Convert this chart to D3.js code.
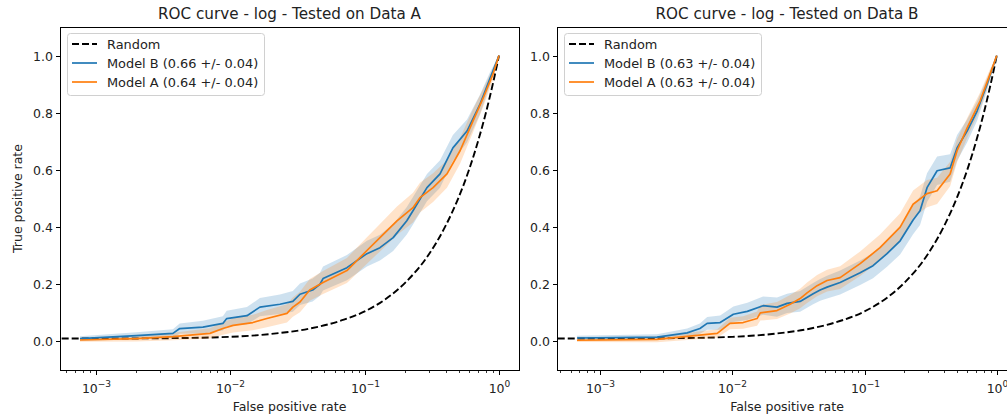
<!DOCTYPE html>
<html>
<head>
<meta charset="utf-8"/>
<script src="https://cdn.jsdelivr.net/npm/d3@7/dist/d3.min.js"></script>
<style>
  html,body { margin:0; padding:0; background:#fff; }
  svg { display:block; font-family:"DejaVu Sans", sans-serif; }
</style>
</head>
<body>
<svg id="chart" width="1007" height="417"></svg>
<script>
// ---- data ----
const titles = ["ROC curve - log - Tested on Data A", "ROC curve - log - Tested on Data B"];
const legendLeft  = ["Random", "Model B (0.66 +/- 0.04)", "Model A (0.64 +/- 0.04)"];
const legendRight = ["Random", "Model B (0.63 +/- 0.04)", "Model A (0.63 +/- 0.04)"];
const yTicks = [0, 0.2, 0.4, 0.6, 0.8, 1.0];
const xTickExps = [-3, -2, -1, 0];

const randomFpr = [1e-4, 1e-3, 3e-3, 0.01, 0.02, 0.04, 0.07, 0.1, 0.15, 0.2, 0.3, 0.4, 0.5, 0.6, 0.7, 0.8, 0.9, 1.0];
const randomTpr = [0.010, 0.010, 0.011, 0.016, 0.026, 0.046, 0.076, 0.105, 0.155, 0.205, 0.304, 0.404, 0.503, 0.602, 0.702, 0.801, 0.901, 1.0];

// left panel (Data A)
const leftBFpr = [7.6e-4, 2.0e-3, 3.74e-3, 4.2e-3, 6.25e-3, 8.8e-3, 9.4e-3, 0.0133, 0.0166, 0.0234, 0.0292, 0.033, 0.041, 0.0465, 0.049, 0.0738, 0.104, 0.13, 0.163, 0.206, 0.229, 0.291, 0.364, 0.454, 0.578, 0.723, 0.857, 1.0];
const leftBTpr = [0.010, 0.020, 0.028, 0.045, 0.050, 0.063, 0.080, 0.090, 0.120, 0.130, 0.140, 0.165, 0.180, 0.200, 0.220, 0.258, 0.307, 0.328, 0.363, 0.422, 0.457, 0.538, 0.586, 0.677, 0.736, 0.830, 0.920, 1.000];
const leftBErr = [0.008, 0.012, 0.015, 0.018, 0.022, 0.025, 0.027, 0.030, 0.032, 0.034, 0.036, 0.038, 0.040, 0.040, 0.042, 0.044, 0.045, 0.045, 0.047, 0.048, 0.048, 0.048, 0.048, 0.045, 0.040, 0.034, 0.022, 0.0];

const leftAFpr = [7.6e-4, 2.0e-3, 3.74e-3, 7.05e-3, 8.8e-3, 0.0105, 0.0147, 0.0187, 0.0264, 0.0292, 0.033, 0.039, 0.049, 0.0738, 0.104, 0.13, 0.174, 0.229, 0.258, 0.323, 0.41, 0.513, 0.64, 0.76, 0.902, 1.0];
const leftATpr = [0.005, 0.010, 0.017, 0.028, 0.045, 0.056, 0.066, 0.080, 0.098, 0.120, 0.138, 0.180, 0.206, 0.248, 0.318, 0.363, 0.422, 0.468, 0.503, 0.538, 0.586, 0.667, 0.771, 0.850, 0.935, 1.000];
const leftAErr = [0.006, 0.010, 0.013, 0.018, 0.022, 0.025, 0.027, 0.030, 0.032, 0.034, 0.036, 0.038, 0.040, 0.044, 0.046, 0.048, 0.050, 0.052, 0.052, 0.050, 0.048, 0.045, 0.040, 0.032, 0.020, 0.0];

// right panel (Data B)
const rightBFpr = [6.7e-4, 2.7e-3, 4.56e-3, 5.7e-3, 6.46e-3, 8.1e-3, 0.0102, 0.013, 0.0171, 0.0218, 0.026, 0.0326, 0.0409, 0.0462, 0.0521, 0.0654, 0.0927, 0.116, 0.148, 0.186, 0.233, 0.263, 0.297, 0.354, 0.444, 0.501, 0.597, 0.71, 0.845, 1.0];
const rightBTpr = [0.012, 0.015, 0.030, 0.045, 0.063, 0.066, 0.095, 0.105, 0.125, 0.120, 0.133, 0.140, 0.167, 0.180, 0.190, 0.206, 0.240, 0.265, 0.307, 0.352, 0.425, 0.457, 0.538, 0.597, 0.607, 0.677, 0.736, 0.806, 0.900, 1.000];
const rightBErr = [0.008, 0.010, 0.015, 0.018, 0.022, 0.025, 0.027, 0.030, 0.032, 0.034, 0.034, 0.036, 0.037, 0.038, 0.040, 0.042, 0.043, 0.044, 0.046, 0.048, 0.050, 0.050, 0.050, 0.050, 0.048, 0.045, 0.040, 0.034, 0.022, 0.0];

const rightAFpr = [6.7e-4, 2.7e-3, 7.7e-3, 9.6e-3, 0.0121, 0.0154, 0.0163, 0.0218, 0.0274, 0.0326, 0.0368, 0.0438, 0.0521, 0.0654, 0.0927, 0.131, 0.186, 0.233, 0.297, 0.354, 0.444, 0.501, 0.597, 0.748, 0.89, 1.0];
const rightATpr = [0.004, 0.007, 0.028, 0.063, 0.066, 0.080, 0.100, 0.108, 0.130, 0.150, 0.170, 0.195, 0.213, 0.223, 0.272, 0.328, 0.400, 0.480, 0.517, 0.527, 0.586, 0.667, 0.747, 0.841, 0.935, 1.000];
const rightAErr = [0.006, 0.010, 0.015, 0.020, 0.022, 0.025, 0.027, 0.030, 0.032, 0.034, 0.036, 0.037, 0.038, 0.040, 0.043, 0.046, 0.048, 0.048, 0.048, 0.046, 0.043, 0.040, 0.035, 0.030, 0.018, 0.0];

const blue = "#1f77b4", orange = "#ff7f0e";

const svg = d3.select("#chart");
const plotTop = 27, plotBottom = 370;

const y = d3.scaleLinear().domain([-0.1, 1.1]).range([plotBottom, plotTop]);

function zipPts(fpr, tpr, err) {
  return fpr.map((f, i) => ({ x: f, y: tpr[i], e: err ? err[i] : 0 }));
}

function panel(idx, x0, x1, xDom, legend, seriesB, seriesA, showYLabel) {
  const g = svg.append("g");
  const x = d3.scaleLog().domain(xDom).range([x0, x1]);

  const clipId = "clip" + idx;
  svg.append("defs").append("clipPath").attr("id", clipId)
    .append("rect").attr("x", x0).attr("y", plotTop).attr("width", x1 - x0).attr("height", plotBottom - plotTop);

  const plot = g.append("g").attr("clip-path", `url(#${clipId})`);
  const line = d3.line().x(d => x(d.x)).y(d => y(d.y));
  const area = d3.area().x(d => x(d.x)).y0(d => y(d.y - d.e)).y1(d => y(d.y + d.e));

  // random baseline
  plot.append("path").datum(zipPts(randomFpr, randomTpr))
    .attr("d", line.curve(d3.curveMonotoneX)).attr("fill", "none")
    .attr("stroke", "#000").attr("stroke-width", 1.9).attr("stroke-dasharray", "7,3");
  line.curve(d3.curveLinear);

  [[seriesB, blue], [seriesA, orange]].forEach(([pts, c]) => {
    plot.append("path").datum(pts).attr("d", area)
      .attr("fill", c).attr("fill-opacity", 0.22).attr("stroke", "none");
  });
  [[seriesB, blue], [seriesA, orange]].forEach(([pts, c]) => {
    plot.append("path").datum(pts).attr("d", line)
      .attr("fill", "none").attr("stroke", c).attr("stroke-width", 1.7)
      .attr("stroke-linejoin", "round");
  });

  // spines
  g.append("rect").attr("x", x0 + 0.5).attr("y", plotTop + 0.5)
    .attr("width", x1 - x0).attr("height", plotBottom - plotTop)
    .attr("fill", "none").attr("stroke", "#000").attr("stroke-width", 1);

  // y ticks
  yTicks.forEach(t => {
    const yy = Math.round(y(t)) + 0.5;
    g.append("line").attr("x1", x0 + 0.5).attr("x2", x0 - 4).attr("y1", yy).attr("y2", yy)
      .attr("stroke", "#000");
    g.append("text").attr("x", x0 - 7).attr("y", yy).attr("dy", "0.36em")
      .attr("text-anchor", "end").attr("font-size", 12.5).attr("fill", "#222")
      .text(d3.format(".1f")(t));
  });

  // x major ticks
  xTickExps.forEach(e => {
    const xx = Math.round(x(Math.pow(10, e))) + 0.5;
    g.append("line").attr("x1", xx).attr("x2", xx).attr("y1", plotBottom + 0.5).attr("y2", plotBottom + 5)
      .attr("stroke", "#000");
    const t = g.append("text").attr("x", xx).attr("y", plotBottom + 23)
      .attr("text-anchor", "middle").attr("font-size", 12.5).attr("fill", "#222");
    t.append("tspan").text("10");
    t.append("tspan").attr("dy", -6).attr("font-size", 9).text(e === 0 ? "0" : "\u2212" + Math.abs(e));
  });
  // x minor ticks
  for (let e = -4; e <= 0; e++) {
    for (let k = 2; k <= 9; k++) {
      const v = k * Math.pow(10, e);
      if (v < xDom[0] || v > xDom[1]) continue;
      const xx = Math.round(x(v)) + 0.5;
      g.append("line").attr("x1", xx).attr("x2", xx).attr("y1", plotBottom + 0.5).attr("y2", plotBottom + 3)
        .attr("stroke", "#000").attr("stroke-width", 0.8);
    }
  }

  const cx = (x0 + x1) / 2;
  g.append("text").attr("x", cx).attr("y", 19).attr("text-anchor", "middle")
    .attr("font-size", 15.2).attr("fill", "#222").text(titles[idx]);
  g.append("text").attr("x", cx).attr("y", 411).attr("text-anchor", "middle")
    .attr("font-size", 12.5).attr("fill", "#222").text("False positive rate");
  if (showYLabel) {
    g.append("text").attr("transform", `translate(22,${(plotTop + plotBottom) / 2}) rotate(-90)`)
      .attr("text-anchor", "middle").attr("font-size", 12.5).attr("fill", "#222")
      .text("True positive rate");
  }

  // legend
  const lx = x0 + 7, ly = 33;
  const lg = g.append("g");
  lg.append("rect").attr("x", lx + 0.5).attr("y", ly + 0.5).attr("width", 197).attr("height", 62)
    .attr("rx", 3).attr("fill", "#fff").attr("fill-opacity", 0.8).attr("stroke", "#d0d0d0");
  const rows = [["#000", true], [blue, false], [orange, false]];
  rows.forEach(([c, dashed], i) => {
    const yy = ly + 11 + i * 19;
    lg.append("line").attr("x1", lx + 5).attr("x2", lx + 30).attr("y1", yy).attr("y2", yy)
      .attr("stroke", c).attr("stroke-width", dashed ? 1.9 : 1.7)
      .attr("stroke-dasharray", dashed ? "7,3" : null);
    lg.append("text").attr("x", lx + 40).attr("y", yy).attr("dy", "0.36em")
      .attr("font-size", 12.9).attr("fill", "#222").text(legend[i]);
  });
}

panel(0, 60, 519, [Math.pow(10, -3.268), Math.pow(10, 0.149)], legendLeft,
  zipPts(leftBFpr, leftBTpr, leftBErr), zipPts(leftAFpr, leftATpr, leftAErr), true);
panel(1, 557, 1017, [Math.pow(10, -3.325), Math.pow(10, 0.153)], legendRight,
  zipPts(rightBFpr, rightBTpr, rightBErr), zipPts(rightAFpr, rightATpr, rightAErr), false);
</script>
</body>
</html>
